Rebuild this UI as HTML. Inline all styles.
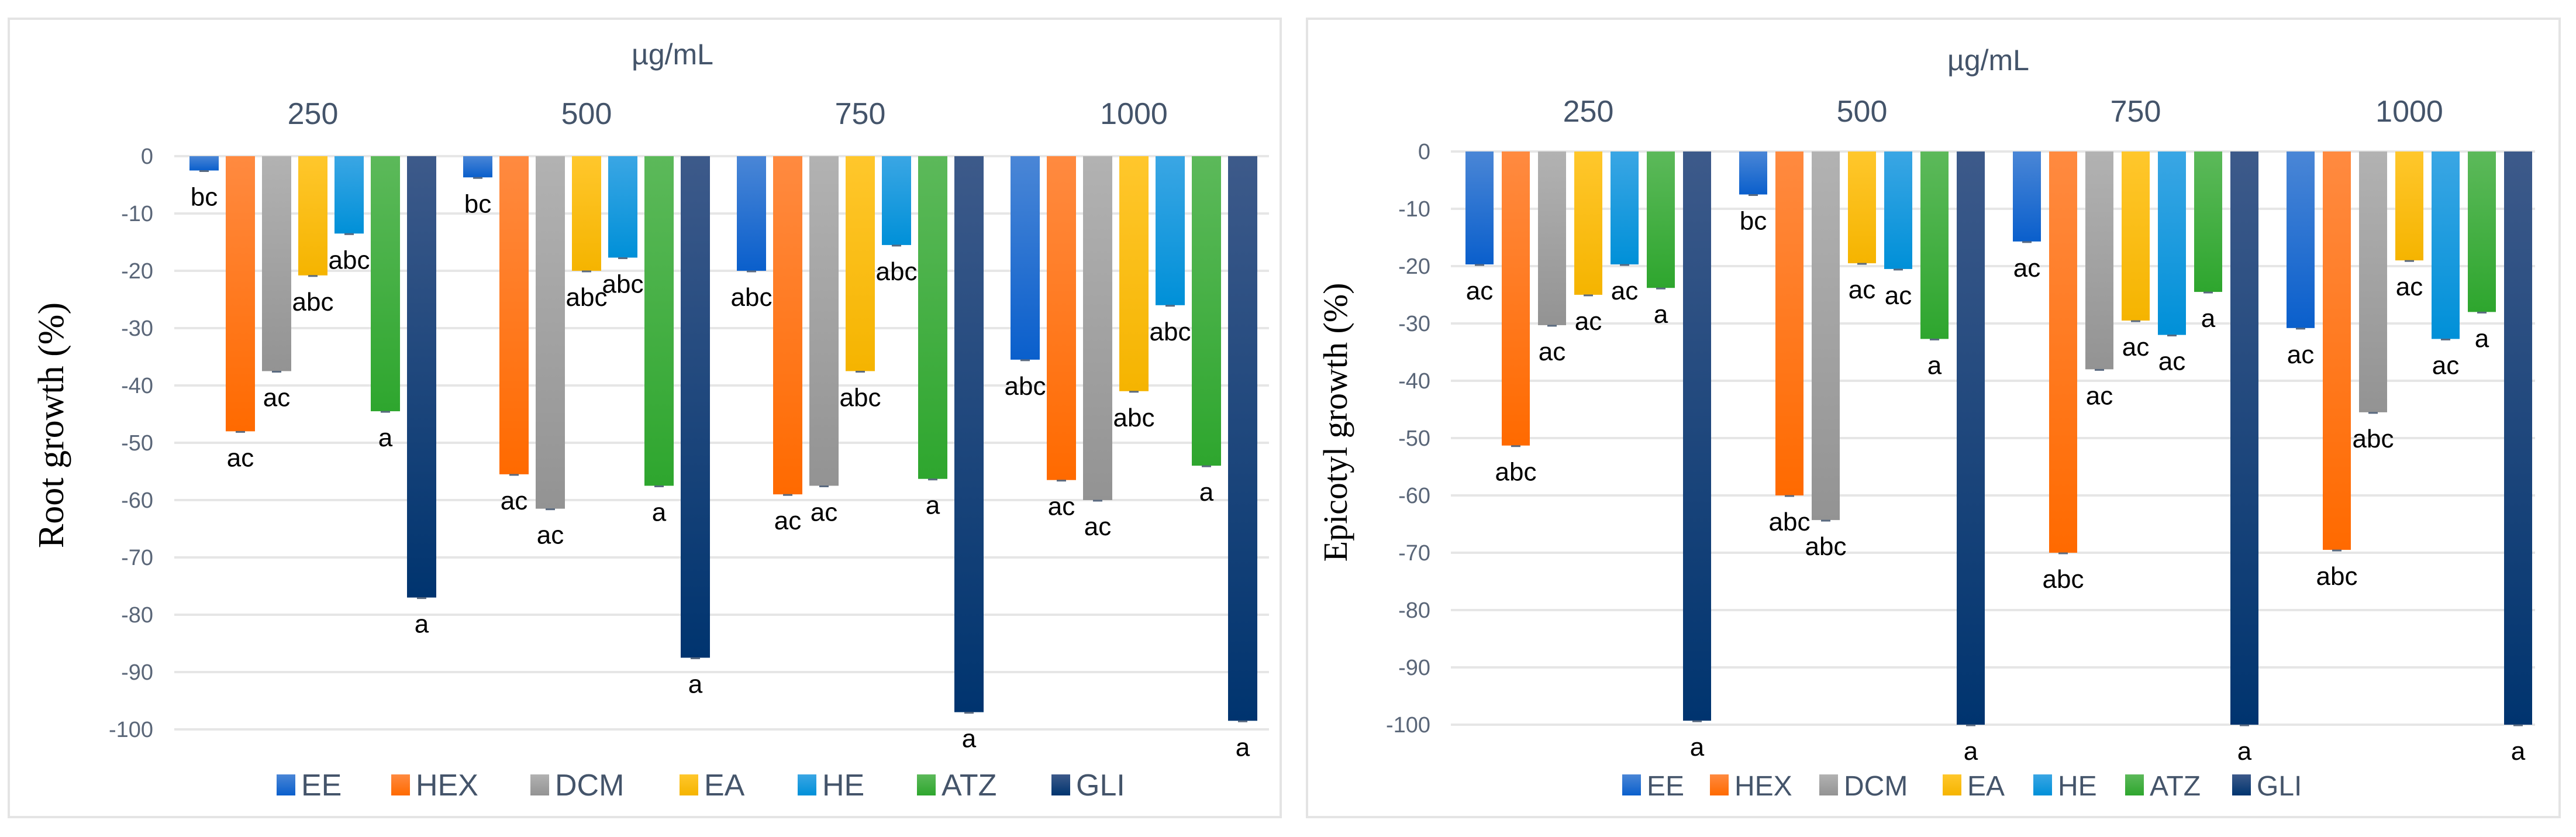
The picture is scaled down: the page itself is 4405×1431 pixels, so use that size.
<!DOCTYPE html>
<html><head><meta charset="utf-8"><style>
html,body{margin:0;padding:0;background:#fff;}
svg{display:block;}
text{font-family:"Liberation Sans",sans-serif;}
</style></head><body>
<svg id="svg" width="4405" height="1431" viewBox="0 0 4405 1431" xmlns="http://www.w3.org/2000/svg">
<defs>
<linearGradient id="g0" x1="0" y1="0" x2="0" y2="1"><stop offset="0" stop-color="#4a86d6"/><stop offset="1" stop-color="#0a5fcc"/></linearGradient>
<linearGradient id="g1" x1="0" y1="0" x2="0" y2="1"><stop offset="0" stop-color="#ff8a40"/><stop offset="1" stop-color="#ff6a00"/></linearGradient>
<linearGradient id="g2" x1="0" y1="0" x2="0" y2="1"><stop offset="0" stop-color="#b2b2b2"/><stop offset="1" stop-color="#939393"/></linearGradient>
<linearGradient id="g3" x1="0" y1="0" x2="0" y2="1"><stop offset="0" stop-color="#ffc72c"/><stop offset="1" stop-color="#f5b400"/></linearGradient>
<linearGradient id="g4" x1="0" y1="0" x2="0" y2="1"><stop offset="0" stop-color="#3aa6e4"/><stop offset="1" stop-color="#0090d8"/></linearGradient>
<linearGradient id="g5" x1="0" y1="0" x2="0" y2="1"><stop offset="0" stop-color="#5cb95a"/><stop offset="1" stop-color="#2ea62e"/></linearGradient>
<linearGradient id="g6" x1="0" y1="0" x2="0" y2="1"><stop offset="0" stop-color="#3d5a8a"/><stop offset="1" stop-color="#00346f"/></linearGradient>
</defs>
</svg>
<script>
const series = ["EE","HEX","DCM","EA","HE","ATZ","GLI"];
const categories = ["250","500","750","1000"];
const yTicks = [0,-10,-20,-30,-40,-50,-60,-70,-80,-90,-100];
const rootValues = [
  [-2.5,-48,-37.5,-20.8,-13.5,-44.5,-77],
  [-3.7,-55.5,-61.5,-20,-17.7,-57.5,-87.5],
  [-20,-59,-57.5,-37.5,-15.5,-56.3,-97],
  [-35.5,-56.5,-60,-41,-26,-54,-98.5]
];
const rootLetters = [
  ["bc","ac","ac","abc","abc","a","a"],
  ["bc","ac","ac","abc","abc","a","a"],
  ["abc","ac","ac","abc","abc","a","a"],
  ["abc","ac","ac","abc","abc","a","a"]
];
const epiValues = [
  [-19.7,-51.3,-30.3,-25,-19.7,-23.8,-99.3],
  [-7.5,-60,-64.3,-19.5,-20.5,-32.7,-100],
  [-15.7,-70,-38,-29.5,-32,-24.5,-100],
  [-30.8,-69.5,-45.5,-19,-32.7,-28,-100]
];
const epiLetters = [
  ["ac","abc","ac","ac","ac","a","a"],
  ["bc","abc","abc","ac","ac","a","a"],
  ["ac","abc","ac","ac","ac","a","a"],
  ["ac","abc","abc","ac","ac","a","a"]
];

const svg = document.getElementById('svg');
const NS = "http://www.w3.org/2000/svg";
function mk(tag, attrs, parent){
  const e = document.createElementNS(NS, tag);
  for (const k in attrs) e.setAttribute(k, attrs[k]);
  (parent||svg).appendChild(e);
  return e;
}

function chart(cfg){
  const g = mk('g', {});
  
  
  const frame = mk('rect', {x:cfg.fx, y:32, width:cfg.fw, height:1365, fill:'#fff', stroke:'#e4e4e4', 'stroke-width':4}, g);
  
  
  const yScale = v => cfg.y0 + (-v) * 9.8;
  const xBar = (c, s) => cfg.gx0 + c * cfg.pitch + s * cfg.barPitch;
  // gridlines & ticks
  yTicks.forEach(t => {
    const ln = mk('line', {x1:cfg.gridL, x2:cfg.gridR, y1:yScale(t), y2:yScale(t), stroke:'#e6e6e6', 'stroke-width':4}, g);
    
    
    const tx = mk('text', {x:cfg.tickX, y:yScale(t)+13, 'text-anchor':'end', 'font-size':38, fill:'#5a6678'}, g);
    tx.textContent = t;
    
    
  });
  // title
  const tt = mk('text', {x:cfg.titleX, y:cfg.titleY, 'text-anchor':'middle', 'font-size':50, fill:'#44546a'}, g);
  tt.textContent = 'µg/mL';
  
  
  // y title
  const yt = mk('text', {x:0, y:0, transform:`translate(${cfg.ytX},${cfg.ytY}) rotate(-90)`, 'text-anchor':'middle', 'font-size':cfg.ytSize, fill:'#000', style:'font-family:"Liberation Serif",serif'}, g);
  yt.textContent = cfg.ytitle;
  
  
  categories.forEach((cat, c) => {
    const cx = xBar(c,0) + (6*cfg.barPitch + cfg.bw)/2;
    const cl = mk('text', {x:cx, y:cfg.catY, 'text-anchor':'middle', 'font-size':52, fill:'#44546a'}, g);
    cl.textContent = cat;
    
    
    series.forEach((s, i) => {
      const v = cfg.values[c][i];
      const x = xBar(c, i);
      const r = mk('rect', {x:x, y:yScale(0), width:cfg.bw, height:yScale(v)-yScale(0), fill:`url(#g${i})`}, g);
      
      
      const eb = mk('line', {x1:x+cfg.bw/2-8, x2:x+cfg.bw/2+8, y1:yScale(v)+1, y2:yScale(v)+1, stroke:'#5a6a80', 'stroke-width':3}, g);
      
      
      const lt = mk('text', {x:x+cfg.bw/2, y:yScale(v)+60, 'text-anchor':'middle', 'font-size':44, fill:'#000'}, g);
      lt.textContent = cfg.letters[c][i];
      
      
    });
  });
  // legend
  series.forEach((s, i) => {
    const lx = cfg.legX[i];
    const sq = mk('rect', {x:lx, y:1324, width:32, height:36, fill:`url(#g${i})`}, g);
    
    
    const lt = mk('text', {x:lx+42, y:1360, 'font-size':cfg.legSize, fill:'#44546a'}, g);
    lt.textContent = s;
    
    
  });
}

chart({name:'root-growth-chart', fx:15, fw:2175, y0:267, gx0:324, pitch:468, barPitch:62, bw:50,
  gridL:298, gridR:2170, tickX:262, titleX:1150, titleY:110, catY:212, ytX:108, ytY:727, ytSize:62,
  ytitle:'Root growth (%)', values:rootValues, letters:rootLetters,
  legX:[473,669,907,1162,1364,1568,1798], legSize:52});
chart({name:'epicotyl-growth-chart', fx:2235, fw:2142, y0:259, gx0:2506, pitch:468, barPitch:62, bw:48,
  gridL:2481, gridR:4335, tickX:2446, titleX:3400, titleY:120, catY:208, ytX:2303, ytY:722, ytSize:58,
  ytitle:'Epicotyl growth (%)', values:epiValues, letters:epiLetters,
  legX:[2774,2924,3111,3322,3477,3634,3817], legSize:48});
</script>
</body></html>
